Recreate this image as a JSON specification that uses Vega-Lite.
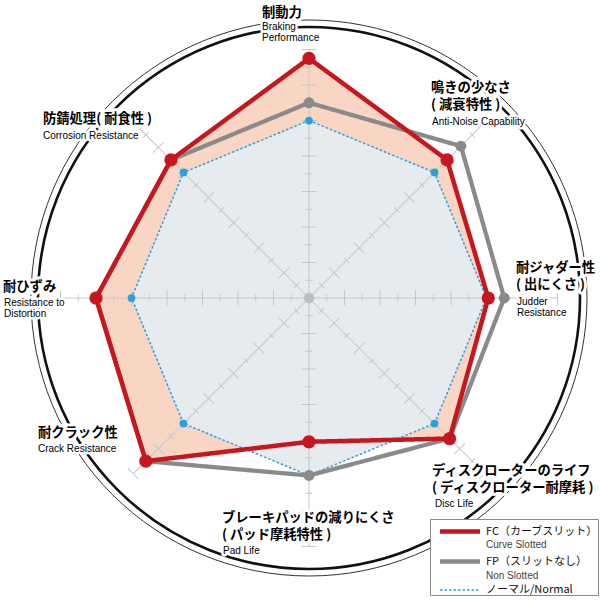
{
  "$schema": "https://vega.github.io/schema/vega-lite/v6.json",
  "width": 600,
  "height": 602,
  "autosize": "none",
  "padding": 0,
  "background": "white",
  "config": {
    "view": {"stroke": null},
    "style": {
      "jpHalo": {"align": "left", "baseline": "alphabetic", "font": "Noto Sans CJK JP", "fontSize": 13.3, "fontWeight": "bold", "lineBreak": "\n", "lineHeight": 17.5, "fill": "#ffffff", "stroke": "#ffffff", "strokeWidth": 6, "strokeJoin": "round"},
      "jpText": {"align": "left", "baseline": "alphabetic", "font": "Noto Sans CJK JP", "fontSize": 13.3, "fontWeight": "bold", "lineBreak": "\n", "lineHeight": 17.5, "fill": "#151515"},
      "enHalo": {"align": "left", "baseline": "alphabetic", "font": "Liberation Sans", "fontSize": 10, "lineBreak": "\n", "lineHeight": 11.5, "fill": "#ffffff", "stroke": "#ffffff", "strokeWidth": 5, "strokeJoin": "round"},
      "enText": {"align": "left", "baseline": "alphabetic", "font": "Liberation Sans", "fontSize": 10, "lineBreak": "\n", "lineHeight": 11.5, "fill": "#3a3a3a"}
    }
  },
  "datasets": {
    "scores": [
      {"series": "Normal", "axis": 0, "v": 10},
      {"series": "Normal", "axis": 1, "v": 10},
      {"series": "Normal", "axis": 2, "v": 10},
      {"series": "Normal", "axis": 3, "v": 10},
      {"series": "Normal", "axis": 4, "v": 10},
      {"series": "Normal", "axis": 5, "v": 10},
      {"series": "Normal", "axis": 6, "v": 10},
      {"series": "Normal", "axis": 7, "v": 10},
      {"series": "FP", "axis": 0, "v": 11},
      {"series": "FP", "axis": 1, "v": 12.1},
      {"series": "FP", "axis": 2, "v": 11},
      {"series": "FP", "axis": 3, "v": 11.2},
      {"series": "FP", "axis": 4, "v": 10},
      {"series": "FP", "axis": 5, "v": 13},
      {"series": "FP", "axis": 6, "v": 12},
      {"series": "FP", "axis": 7, "v": 11},
      {"series": "FC", "axis": 0, "v": 13.5},
      {"series": "FC", "axis": 1, "v": 11},
      {"series": "FC", "axis": 2, "v": 10.1},
      {"series": "FC", "axis": 3, "v": 11.2},
      {"series": "FC", "axis": 4, "v": 8.1},
      {"series": "FC", "axis": 5, "v": 13},
      {"series": "FC", "axis": 6, "v": 12},
      {"series": "FC", "axis": 7, "v": 11}
    ],
    "axes": [
      {"axis": 0, "jp": "制動力", "en": "Braking\nPerformance"},
      {"axis": 1, "jp": "鳴きの少なさ\n( 減衰特性 )", "en": "Anti-Noise Capability"},
      {"axis": 2, "jp": "耐ジャダー性\n( 出にくさ )", "en": "Judder\nResistance"},
      {"axis": 3, "jp": "ディスクローターのライフ\n( ディスクローター耐摩耗 )", "en": "Disc Life"},
      {"axis": 4, "jp": "ブレーキパッドの減りにくさ\n( パッド摩耗特性 )", "en": "Pad Life"},
      {"axis": 5, "jp": "耐クラック性", "en": "Crack Resistance"},
      {"axis": 6, "jp": "耐ひずみ", "en": "Resistance to\nDistortion"},
      {"axis": 7, "jp": "防錆処理( 耐食性 )", "en": "Corrosion Resistance"}
    ]
  },
  "encoding": {
    "x": {"field": "x", "type": "quantitative", "axis": null, "scale": {"domain": [-17.408, 16.394], "nice": false, "zero": false}},
    "y": {"field": "y", "type": "quantitative", "axis": null, "scale": {"domain": [-17.127, 16.789], "nice": false, "zero": false}}
  },
  "layer": [
    {
      "data": {"values": [{"ring": "outer"}]},
      "transform": [{"calculate": "0", "as": "x"}, {"calculate": "0", "as": "y"}],
      "mark": {"type": "point", "shape": "circle", "size": 309136, "filled": false, "stroke": "#333333", "strokeWidth": 1, "opacity": 1}
    },
    {
      "data": {"values": [{"ring": "inner"}]},
      "transform": [{"calculate": "0", "as": "x"}, {"calculate": "0", "as": "y"}],
      "mark": {"type": "point", "shape": "circle", "size": 293764, "filled": false, "stroke": "#111111", "strokeWidth": 2.6, "opacity": 1}
    },
    {
      "data": {"name": "scores"},
      "transform": [
        {"filter": "datum.series == 'FC'"},
        {"calculate": "datum.v * sin(datum.axis * PI / 4)", "as": "x"},
        {"calculate": "datum.v * cos(datum.axis * PI / 4)", "as": "y"}
      ],
      "mark": {"type": "line", "interpolate": "linear-closed", "fill": "#f9d5c3", "strokeOpacity": 0},
      "encoding": {"order": {"field": "axis", "type": "quantitative"}}
    },
    {
      "data": {"name": "scores"},
      "transform": [
        {"filter": "datum.series == 'Normal'"},
        {"calculate": "datum.v * sin(datum.axis * PI / 4)", "as": "x"},
        {"calculate": "datum.v * cos(datum.axis * PI / 4)", "as": "y"}
      ],
      "mark": {"type": "line", "interpolate": "linear-closed", "fill": "#e6ebf0", "strokeOpacity": 0},
      "encoding": {"order": {"field": "axis", "type": "quantitative"}}
    },
    {
      "data": {"name": "axes"},
      "transform": [{"calculate": "0", "as": "x"}, {"calculate": "0", "as": "y"}, {"calculate": "datum.axis * 45", "as": "deg"}],
      "mark": {"type": "point", "shape": "M0,0V-14M-0.2,-1H0.2M-0.42,-2H0.42M-0.2,-3H0.2M-0.42,-4H0.42M-0.2,-5H0.2M-0.42,-6H0.42M-0.2,-7H0.2M-0.42,-8H0.42M-0.2,-9H0.2M-0.42,-10H0.42M-0.2,-11H0.2M-0.42,-12H0.42M-0.2,-13H0.2M-0.42,-14H0.42", "size": 1260.25, "filled": false, "stroke": "#c4c8cc", "strokeWidth": 1, "opacity": 1},
      "encoding": {
        "angle": {"field": "deg", "type": "quantitative", "scale": null}
      }
    },
    {
      "data": {"values": [{"dot": "center"}]},
      "transform": [{"calculate": "0", "as": "x"}, {"calculate": "0", "as": "y"}],
      "mark": {"type": "point", "shape": "circle", "size": 110, "filled": true, "color": "#bdbdbd", "opacity": 1}
    },
    {
      "data": {"name": "scores"},
      "transform": [
        {"calculate": "datum.v * sin(datum.axis * PI / 4)", "as": "x"},
        {"calculate": "datum.v * cos(datum.axis * PI / 4)", "as": "y"}
      ],
      "mark": {"type": "line", "interpolate": "linear-closed", "strokeJoin": "miter"},
      "encoding": {
        "order": {"field": "axis", "type": "quantitative"},
        "color": {
          "field": "series", "type": "nominal",
          "scale": {"domain": ["FC", "FP", "Normal"], "range": ["#c8161e", "#8a8a8a", "#2a9fd8"]},
          "legend": {
            "orient": "none", "legendX": 430, "legendY": 519, "title": null,
            "symbolType": "M-2,0H2", "symbolSize": 400, "symbolOffset": 17.5,
            "labelOffset": 13.5, "labelFont": "Noto Sans CJK JP", "labelFontSize": 11, "labelColor": "#111111", "labelLimit": 0,
            "padding": 0, "rowPadding": 8,
            "strokeColor": "#8a8a8a", "fillColor": "#ffffff",
            "labelExpr": "datum.label == 'FC' ? 'FC（カーブスリット）' : datum.label == 'FP' ? 'FP（スリットなし）' : 'ノーマル/Normal'"
          }
        },
        "strokeDash": {"field": "series", "type": "nominal", "scale": {"domain": ["FC", "FP", "Normal"], "range": [[1, 0], [1, 0], [2.5, 2]]}},
        "strokeWidth": {"field": "series", "type": "nominal", "scale": {"type": "ordinal", "domain": ["FC", "FP", "Normal"], "range": [4.5, 4.3, 1.5]}}
      }
    },
    {
      "data": {"name": "scores"},
      "transform": [
        {"calculate": "datum.v * sin(datum.axis * PI / 4)", "as": "x"},
        {"calculate": "datum.v * cos(datum.axis * PI / 4)", "as": "y"}
      ],
      "mark": {"type": "point", "filled": true, "opacity": 1},
      "encoding": {
        "color": {"field": "series", "type": "nominal", "scale": {"domain": ["FC", "FP", "Normal"]}},
        "size": {"condition": [{"test": "datum.series == 'FC'", "value": 175}, {"test": "datum.series == 'FP'", "value": 120}], "value": 60},
        "shape": {
          "field": "series", "type": "nominal",
          "scale": {"range": ["circle", "circle", "circle"]},
          "legend": {
            "orient": "none", "legendX": 476, "legendY": 540, "title": null,
            "symbolOpacity": 0, "symbolSize": 1, "labelOffset": 0,
            "labelFont": "Liberation Sans", "labelFontSize": 10, "labelColor": "#444444",
            "padding": 0, "rowPadding": 21, "clipHeight": 10,
            "labelExpr": "datum.label == 'FC' ? 'Curve Slotted' : datum.label == 'FP' ? 'Non Slotted' : ''"
          }
        }
      }
    },
    {
      "data": {"name": "axes"},
      "transform": [
        {"filter": "datum.axis == 0"},
        {"calculate": "14 * sin(datum.axis * PI / 4)", "as": "x"},
        {"calculate": "14 * cos(datum.axis * PI / 4)", "as": "y"}
      ],
      "layer": [
        {"mark": {"type": "text", "style": "jpHalo", "dx": -47, "dy": -32.7}, "encoding": {"text": {"field": "jp", "type": "nominal"}}},
        {"mark": {"type": "text", "style": "jpText", "dx": -47, "dy": -32.7}, "encoding": {"text": {"field": "jp", "type": "nominal"}}},
        {"mark": {"type": "text", "style": "enHalo", "dx": -47, "dy": -19.9}, "encoding": {"text": {"field": "en", "type": "nominal"}}},
        {"mark": {"type": "text", "style": "enText", "dx": -47, "dy": -19.9}, "encoding": {"text": {"field": "en", "type": "nominal"}}}
      ]
    },
    {
      "data": {"name": "axes"},
      "transform": [
        {"filter": "datum.axis == 1"},
        {"calculate": "14 * sin(datum.axis * PI / 4)", "as": "x"},
        {"calculate": "14 * cos(datum.axis * PI / 4)", "as": "y"}
      ],
      "layer": [
        {"mark": {"type": "text", "style": "jpHalo", "dx": -53.7, "dy": -30.5}, "encoding": {"text": {"field": "jp", "type": "nominal"}}},
        {"mark": {"type": "text", "style": "jpText", "dx": -53.7, "dy": -30.5}, "encoding": {"text": {"field": "jp", "type": "nominal"}}},
        {"mark": {"type": "text", "style": "enHalo", "dx": -52.7, "dy": 2.3}, "encoding": {"text": {"field": "en", "type": "nominal"}}},
        {"mark": {"type": "text", "style": "enText", "dx": -52.7, "dy": 2.3}, "encoding": {"text": {"field": "en", "type": "nominal"}}}
      ]
    },
    {
      "data": {"name": "axes"},
      "transform": [
        {"filter": "datum.axis == 2"},
        {"calculate": "14 * sin(datum.axis * PI / 4)", "as": "x"},
        {"calculate": "14 * cos(datum.axis * PI / 4)", "as": "y"}
      ],
      "layer": [
        {"mark": {"type": "text", "style": "jpHalo", "dx": -41.5, "dy": -26.2}, "encoding": {"text": {"field": "jp", "type": "nominal"}}},
        {"mark": {"type": "text", "style": "jpText", "dx": -41.5, "dy": -26.2}, "encoding": {"text": {"field": "jp", "type": "nominal"}}},
        {"mark": {"type": "text", "style": "enHalo", "dx": -40.5, "dy": 6.6}, "encoding": {"text": {"field": "en", "type": "nominal"}}},
        {"mark": {"type": "text", "style": "enText", "dx": -40.5, "dy": 6.6}, "encoding": {"text": {"field": "en", "type": "nominal"}}}
      ]
    },
    {
      "data": {"name": "axes"},
      "transform": [
        {"filter": "datum.axis == 3"},
        {"calculate": "14 * sin(datum.axis * PI / 4)", "as": "x"},
        {"calculate": "14 * cos(datum.axis * PI / 4)", "as": "y"}
      ],
      "layer": [
        {"mark": {"type": "text", "style": "jpHalo", "dx": -52.7, "dy": 1.1}, "encoding": {"text": {"field": "jp", "type": "nominal"}}},
        {"mark": {"type": "text", "style": "jpText", "dx": -52.7, "dy": 1.1}, "encoding": {"text": {"field": "jp", "type": "nominal"}}},
        {"mark": {"type": "text", "style": "enHalo", "dx": -49.7, "dy": 32.9}, "encoding": {"text": {"field": "en", "type": "nominal"}}},
        {"mark": {"type": "text", "style": "enText", "dx": -49.7, "dy": 32.9}, "encoding": {"text": {"field": "en", "type": "nominal"}}}
      ]
    },
    {
      "data": {"name": "axes"},
      "transform": [
        {"filter": "datum.axis == 4"},
        {"calculate": "14 * sin(datum.axis * PI / 4)", "as": "x"},
        {"calculate": "14 * cos(datum.axis * PI / 4)", "as": "y"}
      ],
      "layer": [
        {"mark": {"type": "text", "style": "jpHalo", "dx": -87, "dy": -24.7}, "encoding": {"text": {"field": "jp", "type": "nominal"}}},
        {"mark": {"type": "text", "style": "jpText", "dx": -87, "dy": -24.7}, "encoding": {"text": {"field": "jp", "type": "nominal"}}},
        {"mark": {"type": "text", "style": "enHalo", "dx": -86, "dy": 7.1}, "encoding": {"text": {"field": "en", "type": "nominal"}}},
        {"mark": {"type": "text", "style": "enText", "dx": -86, "dy": 7.1}, "encoding": {"text": {"field": "en", "type": "nominal"}}}
      ]
    },
    {
      "data": {"name": "axes"},
      "transform": [
        {"filter": "datum.axis == 5"},
        {"calculate": "14 * sin(datum.axis * PI / 4)", "as": "x"},
        {"calculate": "14 * cos(datum.axis * PI / 4)", "as": "y"}
      ],
      "layer": [
        {"mark": {"type": "text", "style": "jpHalo", "dx": -95.3, "dy": -36.9}, "encoding": {"text": {"field": "jp", "type": "nominal"}}},
        {"mark": {"type": "text", "style": "jpText", "dx": -95.3, "dy": -36.9}, "encoding": {"text": {"field": "jp", "type": "nominal"}}},
        {"mark": {"type": "text", "style": "enHalo", "dx": -95.3, "dy": -22.1}, "encoding": {"text": {"field": "en", "type": "nominal"}}},
        {"mark": {"type": "text", "style": "enText", "dx": -95.3, "dy": -22.1}, "encoding": {"text": {"field": "en", "type": "nominal"}}}
      ]
    },
    {
      "data": {"name": "axes"},
      "transform": [
        {"filter": "datum.axis == 6"},
        {"calculate": "14 * sin(datum.axis * PI / 4)", "as": "x"},
        {"calculate": "14 * cos(datum.axis * PI / 4)", "as": "y"}
      ],
      "layer": [
        {"mark": {"type": "text", "style": "jpHalo", "dx": -57.5, "dy": -7.2}, "encoding": {"text": {"field": "jp", "type": "nominal"}}},
        {"mark": {"type": "text", "style": "jpText", "dx": -57.5, "dy": -7.2}, "encoding": {"text": {"field": "jp", "type": "nominal"}}},
        {"mark": {"type": "text", "style": "enHalo", "dx": -56.5, "dy": 7.6}, "encoding": {"text": {"field": "en", "type": "nominal"}}},
        {"mark": {"type": "text", "style": "enText", "dx": -56.5, "dy": 7.6}, "encoding": {"text": {"field": "en", "type": "nominal"}}}
      ]
    },
    {
      "data": {"name": "axes"},
      "transform": [
        {"filter": "datum.axis == 7"},
        {"calculate": "14 * sin(datum.axis * PI / 4)", "as": "x"},
        {"calculate": "14 * cos(datum.axis * PI / 4)", "as": "y"}
      ],
      "layer": [
        {"mark": {"type": "text", "style": "jpHalo", "dx": -90.3, "dy": 0.5}, "encoding": {"text": {"field": "jp", "type": "nominal"}}},
        {"mark": {"type": "text", "style": "jpText", "dx": -90.3, "dy": 0.5}, "encoding": {"text": {"field": "jp", "type": "nominal"}}},
        {"mark": {"type": "text", "style": "enHalo", "dx": -90.3, "dy": 16.3}, "encoding": {"text": {"field": "en", "type": "nominal"}}},
        {"mark": {"type": "text", "style": "enText", "dx": -90.3, "dy": 16.3}, "encoding": {"text": {"field": "en", "type": "nominal"}}}
      ]
    }
  ]
}
